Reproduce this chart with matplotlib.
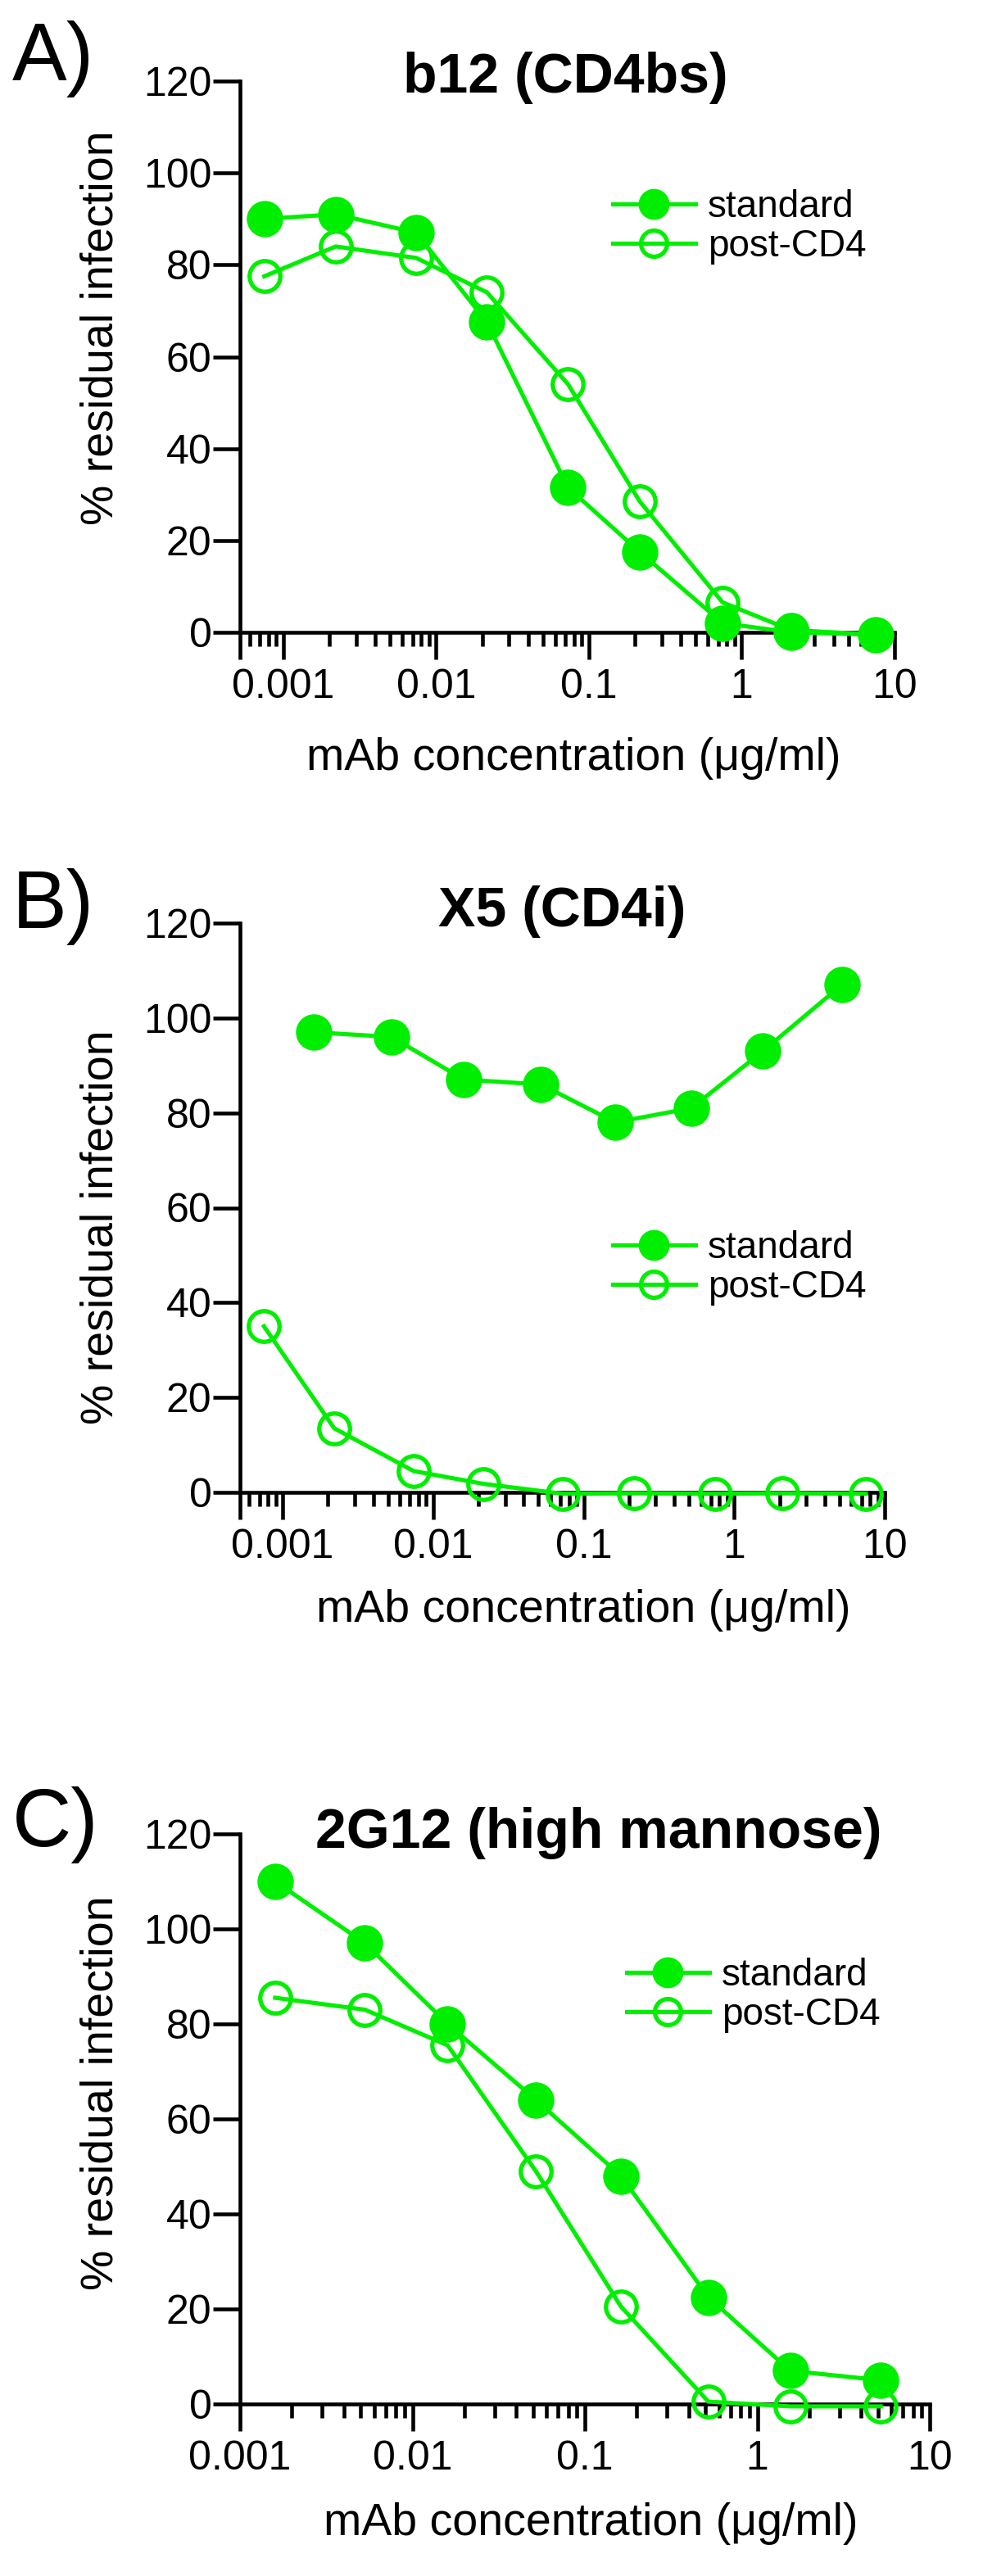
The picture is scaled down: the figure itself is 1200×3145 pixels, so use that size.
import numpy as np
import matplotlib
matplotlib.use("Agg")
import matplotlib.pyplot as plt
from matplotlib.ticker import FixedLocator, LogLocator, NullFormatter

plt.rcParams['font.family'] = ['Liberation Sans', 'DejaVu Sans']

# ---- data ----
conc_9 = [0.00075, 0.0022, 0.0074, 0.0215, 0.073, 0.215, 0.75, 2.1, 7.5]
b12_standard = [90, 91, 87, 67.5, 31.5, 17.5, 2, 0, -0.5]
b12_post = [77.5, 84, 81.5, 74, 54, 28.5, 6.5, 0.5, -0.5]

conc_8 = [0.0016, 0.0053, 0.016, 0.052, 0.162, 0.52, 1.55, 5.2]
x5_standard = [97, 96, 87, 86, 78, 81, 93, 107]
x5_post = [35, 13.5, 4.5, 1.8, -0.3, -0.2, -0.3, -0.2, -0.3]

g12_standard = [110, 97, 80, 64, 48, 22.5, 7, 5]
g12_post = [85.5, 83, 75.5, 49, 20.5, 0.5, -0.5, -0.5]

tick_vals = [0.001, 0.01, 0.1, 1, 10]
tick_text = ['0.001', '0.01', '0.1', '1', '10']
series_names = ['standard', 'post-CD4']

GREEN = '#00ee00'
W, H = 1200, 3145
fig = plt.figure(figsize=(W / 100, H / 100), dpi=100)

def fx(px):
    return px / W

def fy(py):
    return 1 - py / H

# panel: letter, title, axes box in pixels (left, right, top, bottom), xlim,
# std x/y, post x/y, title x/baseline, legend anchor, ylabel centre, xlabel pos
panels = [
    dict(letter='A)', lbase=98, title='b12 (CD4bs)', tx=690, tbase=113,
         box=(293, 1092, 99, 772), xmin=5.2e-4,
         sx=conc_9, sy=b12_standard, px=conc_9, py=b12_post,
         leg=(748, 277), ylc=400, xl=(700, 940)),
    dict(letter='B)', lbase=1133, title='X5 (CD4i)', tx=686, tbase=1131,
         box=(293, 1080, 1127, 1822), xmin=5.2e-4,
         sx=conc_8, sy=x5_standard, px=conc_9, py=x5_post,
         leg=(748, 1548), ylc=1498, xl=(712, 1980)),
    dict(letter='C)', lbase=2254, title='2G12 (high mannose)', tx=731, tbase=2256,
         box=(293, 1135, 2239, 2935), xmin=1e-3,
         sx=conc_8, sy=g12_standard, px=conc_8, py=g12_post,
         leg=(765, 2436), ylc=2555, xl=(721, 3095)),
]

LW = 3.3
for p in panels:
    l, r, t, b = p['box']
    ax = fig.add_axes([fx(l), fy(b), (r - l) / W, (b - t) / H])
    ax.set_xscale('log')
    ax.set_xlim(p['xmin'], 10)
    ax.set_ylim(0, 120)
    for s in ['top', 'right']:
        ax.spines[s].set_visible(False)
    for s in ['left', 'bottom']:
        ax.spines[s].set_linewidth(LW)

    majors = list(tick_vals)
    labels = list(tick_text)
    if p['xmin'] < 0.001:
        majors = [p['xmin']] + majors
        labels = [''] + labels
    ax.xaxis.set_major_locator(FixedLocator(majors))
    ax.set_xticklabels(labels)
    ax.xaxis.set_minor_locator(LogLocator(base=10, subs=np.arange(2, 10), numticks=20))
    ax.xaxis.set_minor_formatter(NullFormatter())
    ax.set_yticks(np.arange(0, 121, 20))

    ax.tick_params(axis='both', which='major', length=23.8, width=LW,
                   labelsize=36, direction='out')
    ax.tick_params(axis='x', which='minor', length=12, width=LW, direction='out')
    ax.tick_params(axis='x', which='major', pad=8)
    ax.tick_params(axis='y', which='major', pad=1)

    h1, = ax.plot(p['sx'], p['sy'], '-o', color=GREEN, lw=3.7, ms=32, mew=0,
                  clip_on=False, zorder=5, label=series_names[0])
    h2, = ax.plot(p['px'], p['py'], '-o', color=GREEN, lw=3.7, ms=27, mew=3.8,
                  mfc='none', mec=GREEN, clip_on=False, zorder=4, label=series_names[1])

    lx, ly = p['leg']
    ax.legend(handles=[h1, h2], loc='center left',
              bbox_to_anchor=(fx(lx), fy(ly)), bbox_transform=fig.transFigure,
              frameon=False, fontsize=33, handlelength=2.2, handletextpad=0.33,
              labelspacing=0.08, borderpad=0, borderaxespad=0, markerscale=0.85)

    fig.text(fx(15), fy(p['lbase']), p['letter'], fontsize=72,
             ha='left', va='baseline')
    fig.text(fx(p['tx']), fy(p['tbase']), p['title'], fontsize=49,
             fontweight='bold', ha='center', va='baseline')
    fig.text(fx(138), fy(p['ylc']), '% residual infection', fontsize=40,
             rotation=90, rotation_mode='anchor', ha='center', va='baseline')
    xlx, xly = p['xl']
    fig.text(fx(xlx), fy(xly), 'mAb concentration (\u03bcg/ml)', fontsize=40,
             ha='center', va='baseline')

fig.savefig('out.png', dpi=100)
